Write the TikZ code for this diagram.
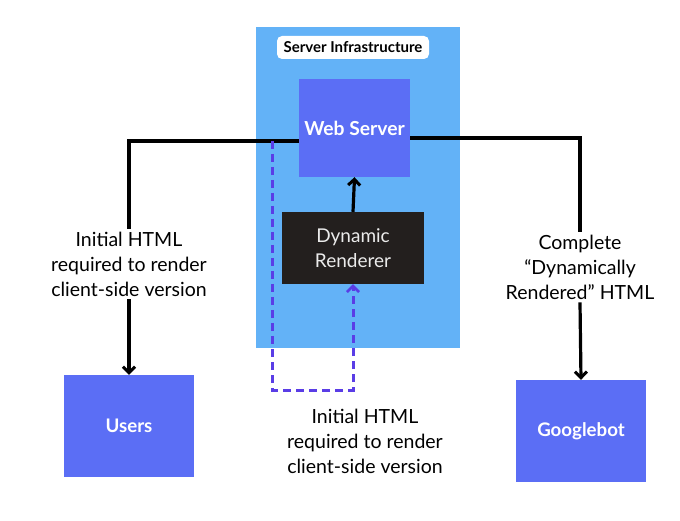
\documentclass[tikz,border=0pt]{standalone}
\usepackage{fontspec}
\setmainfont{Lato}
\usetikzlibrary{arrows.meta}
\definecolor{infra}{HTML}{63B2F7}
\definecolor{boxblue}{HTML}{5B6EF5}
\definecolor{renderer}{HTML}{231F1E}
\definecolor{dashpurple}{HTML}{5A3DE6}
\tikzset{
  bluebox/.style={fill=boxblue, draw=none, text=white, font=\fontsize{18.7}{22}\selectfont\bfseries, inner sep=0pt},
  flow/.style={line width=3.2pt, draw=black, -{Straight Barb[length=6pt,width=12pt,line width=3pt]}},
  plainflow/.style={line width=3.2pt, draw=black},
  dashflow/.style={line width=3pt, draw=dashpurple, dash pattern=on 8pt off 5pt, -{Straight Barb[length=6pt,width=12pt,line width=2.6pt]}},
  lbl/.style={align=center, font=\fontsize{19.5}{25}\selectfont, text=black, inner sep=3pt}
}
\begin{document}
\begin{tikzpicture}[x=1pt,y=-1pt]
\useasboundingbox[fill=white] (0,0) rectangle (680,521);
\node[fill=infra, minimum width=204pt, minimum height=321pt, inner sep=0pt] (infra) at (358,187.5) {};
\node[fill=white, rounded corners=5pt, minimum width=152pt, minimum height=23pt, inner sep=0pt, font=\fontsize{15}{17}\selectfont\bfseries] (infralbl) at (353,47.5) {Server Infrastructure};
\node[bluebox, minimum width=111pt, minimum height=98pt, font=\fontsize{19.3}{22}\selectfont\bfseries] (ws) at (354.5,128) {Web Server};
\node[fill=renderer, minimum width=142pt, minimum height=72pt, inner sep=0pt, text=white!92!black, align=center, font=\fontsize{19}{25}\selectfont] (dr) at (353,248) {Dynamic\\Renderer};
\node[bluebox, minimum width=130pt, minimum height=102pt] (users) at (129,426) {Users};
\node[bluebox, minimum width=130pt, minimum height=102pt] (gbot) at (581,431) {Googlebot};
\node[lbl] (ll) at (129,264) {Initial HTML\\required to render\\client-side version};
\node[lbl] (rl) at (580,267) {Complete\\“Dynamically\\Rendered” HTML};
\node[lbl] (bl) at (365,441) {Initial HTML\\required to render\\client-side version};
\coordinate (wl) at ([yshift=-13pt]ws.west);
\coordinate (wr) at ([yshift=-10pt]ws.east);
\coordinate (d0) at (272,141);
\coordinate (dc) at (272,390);
\draw[plainflow] (wl) -| (ll.north);
\draw[flow] (ll.south) -- (users.north);
\draw[plainflow] (wr) -| (rl.north);
\draw[flow] (rl.south) -- (gbot.north);
\draw[flow] (dr.north) -- (ws.south);
\draw[dashflow] (d0) -- (dc) -| (dr.south);
\end{tikzpicture}
\end{document}
